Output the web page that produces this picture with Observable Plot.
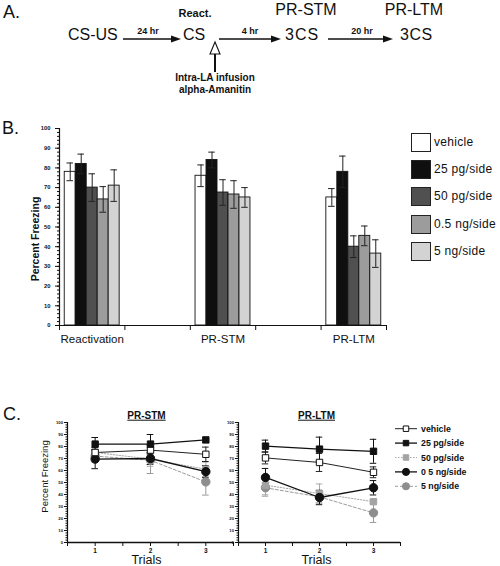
<!DOCTYPE html>
<html><head><meta charset="utf-8">
<script src="https://cdn.jsdelivr.net/npm/d3@7"></script>
<script src="https://cdn.jsdelivr.net/npm/@observablehq/plot@0.6"></script>
<style>
html,body{margin:0;padding:0;background:#fff;}
#root{position:relative;width:500px;height:566px;overflow:hidden;font-family:"Liberation Sans",Arial,sans-serif;color:#111;}
#root svg{position:absolute;overflow:visible;}
.lg{position:absolute;font-size:12px;line-height:18px;white-space:nowrap;letter-spacing:0.3px;}
.sw{position:absolute;width:18px;height:17px;border:1px solid #222;}
</style></head><body>
<div id="root">
<svg width="500" height="100" style="left:0;top:0" font-family="Liberation Sans, Arial, sans-serif" fill="#111">
  <text x="3" y="18" font-size="18">A.</text>
  <text x="195" y="16.5" font-size="11" font-weight="bold" text-anchor="middle">React.</text>
  <text x="306" y="15" font-size="16" text-anchor="middle">PR-STM</text>
  <text x="414" y="15" font-size="16" text-anchor="middle">PR-LTM</text>
  <text x="68" y="40" font-size="16">CS-US</text>
  <text x="183" y="40" font-size="16">CS</text>
  <text x="285" y="40" font-size="16" letter-spacing="1">3CS</text>
  <text x="400" y="40" font-size="16" letter-spacing="0.5">3CS</text>
  <text x="148" y="34" font-size="9" font-weight="bold" text-anchor="middle">24 hr</text>
  <text x="250" y="34" font-size="9" font-weight="bold" text-anchor="middle">4 hr</text>
  <text x="362" y="34" font-size="9" font-weight="bold" text-anchor="middle">20 hr</text>
  <line x1="123" y1="39" x2="172" y2="39" stroke="#111" stroke-width="1.6"/>
  <polygon points="181,39 171,35.5 171,42.5" fill="#111"/>
  <line x1="219" y1="39" x2="272" y2="39" stroke="#111" stroke-width="1.6"/>
  <polygon points="281,39 271,35.5 271,42.5" fill="#111"/>
  <line x1="328" y1="39" x2="384" y2="39" stroke="#111" stroke-width="1.6"/>
  <polygon points="393,39 383,35.5 383,42.5" fill="#111"/>
  <polygon points="215,42 210,54 220,54" fill="#fff" stroke="#111" stroke-width="1.1"/>
  <line x1="215" y1="54" x2="215" y2="72" stroke="#111" stroke-width="2"/>
  <text x="215" y="81" font-size="10" font-weight="bold" text-anchor="middle">Intra-LA infusion</text>
  <text x="215" y="93" font-size="10" font-weight="bold" text-anchor="middle">alpha-Amanitin</text>
  <text x="2" y="134" font-size="18">B.</text>
  <text x="3" y="420" font-size="18">C.</text>
</svg>
</div>
<script>
// ---------- data ----------
const doses = ["vehicle", "25 pg/side", "50 pg/side", "0.5 ng/side", "5 ng/side"];
const groups = ["Reactivation", "PR-STM", "PR-LTM"];
const reactMean = [78, 82, 70, 64, 71];
const reactSem  = [4.5, 5, 7, 6.5, 8];
const stmMean   = [76, 84, 67.5, 66.5, 65];
const stmSem    = [5.5, 4, 6.5, 7, 5];
const ltmMean   = [65, 78, 40, 45.5, 36.5];
const ltmSem    = [4.5, 8, 5.5, 5, 7];
const yTicks = [0, 10, 20, 30, 40, 50, 60, 70, 80, 90, 100];

const trials = [1, 2, 3];
const trialSeries = ["vehicle", "25 pg/side", "50 pg/side", "0 5 ng/side", "5 ng/side"];
const stmTrialMean = [[75, 77, 73.5], [82, 82, 85.5], [75, 69.5, 61], [69.5, 70, 59], [72, 68.5, 50.5]];
const stmTrialErr  = [[4, 4, 6], [5.5, 8, 2], [4, 6, 6], [8, 5, 5], [5, 11, 11]];
const ltmTrialMean = [[70.5, 66.7, 58.5], [80.3, 77.8, 76], [47.8, 40.8, 34], [54.2, 37.5, 45.6], [45.6, 38, 24.7]];
const ltmTrialErr  = [[5, 7.5, 4.5], [5, 10, 10], [8, 8, 2], [7.5, 6, 6], [7, 5, 8]];

// ---------- styles ----------
const FONT = "Liberation Sans, Arial, sans-serif";
const barFill = ["#ffffff", "#0f0f0f", "#505050", "#9c9c9c", "#d3d3d3"];
const seriesStyle = [
  {symbol: "square", fill: "#fff", stroke: "#111", line: "#222", dash: null, w: 1},
  {symbol: "square", fill: "#111", stroke: "#111", line: "#111", dash: null, w: 1.3},
  {symbol: "square", fill: "#a3a3a3", stroke: "#a3a3a3", line: "#aaa", dash: "1.5,1.5", w: 1},
  {symbol: "circle", fill: "#111", stroke: "#111", line: "#111", dash: null, w: 1.3},
  {symbol: "circle", fill: "#8e8e8e", stroke: "#8e8e8e", line: "#9a9a9a", dash: "3,2", w: 1}
];
const root = document.getElementById("root");

// ---------- panel B ----------
const barRows = [];
[[reactMean, reactSem], [stmMean, stmSem], [ltmMean, ltmSem]].forEach(([m, s], gi) =>
  doses.forEach((d, di) => barRows.push({group: groups[gi], gi, dose: d, di, mean: m[di], sem: s[di]})));
const BW = 0.168;
const left = r => 2 * r.gi + 0.08 + r.di * BW;
const mid = r => left(r) + BW / 2;
const capRows = barRows.flatMap(r => [{...r, v: r.mean + r.sem}, {...r, v: r.mean - r.sem}]);

const plotB = Plot.plot({
  width: 400, height: 240, marginTop: 13, marginBottom: 30, marginLeft: 59, marginRight: 14,
  style: {fontFamily: FONT, background: "transparent", color: "#111", overflow: "visible"},
  x: {domain: [0, 5]}, y: {domain: [0, 100]}, color: {type: "identity"},
  marks: [
    Plot.rect(barRows, {x1: left, x2: r => left(r) + BW, y1: 0, y2: "mean", fill: r => barFill[r.di], stroke: "#111", strokeWidth: 0.9}),
    Plot.ruleX(barRows, {x: mid, y1: r => r.mean - r.sem, y2: r => r.mean + r.sem, stroke: "#222", strokeWidth: 1}),
    Plot.ruleY(capRows, {y: "v", x1: r => mid(r) - 0.05, x2: r => mid(r) + 0.05, stroke: "#222", strokeWidth: 1}),
    Plot.ruleX([0], {stroke: "#111", strokeWidth: 1.2}),
    Plot.ruleY([0], {stroke: "#111", strokeWidth: 1.2}),
    Plot.axisY(yTicks, {tickSize: 4, tickPadding: 5, fontSize: 5.8, fontWeight: "bold", label: null}),
    Plot.axisY(d3.range(0, 101, 2), {tickSize: 2, tickFormat: () => "", label: null}),
    Plot.axisX([0, 1, 2, 3, 4, 5], {tickSize: 5, tickFormat: () => "", label: null}),
    Plot.text(groups, {x: (d, i) => 2 * i + 0.5, y: 0, dy: 14, fontSize: 11.5, text: d => d, fill: "#111", textAnchor: "middle"}),
    Plot.text(["Percent Freezing"], {frameAnchor: "left", rotate: -90, dx: -24, dy: 12, fontWeight: "bold", fontSize: 10.5, text: d => d, fill: "#111", textAnchor: "middle"})
  ]
});
plotB.style.left = "0px"; plotB.style.top = "115px";
root.appendChild(plotB);

// legend B
doses.forEach((d, i) => {
  const sw = document.createElement("div");
  sw.className = "sw";
  sw.style.left = "411px"; sw.style.top = (133 + i * 27.2) + "px"; sw.style.background = barFill[i];
  root.appendChild(sw);
  const t = document.createElement("div");
  t.className = "lg";
  t.style.left = "434px"; t.style.top = (133 + i * 27.2) + "px";
  t.textContent = d;
  root.appendChild(t);
});

// ---------- panel C ----------
function trialPlot(means, errs, title, opts) {
  const order = [4, 2, 3, 0, 1];
  const marks = [
    Plot.ruleX([0.5], {stroke: "#111", strokeWidth: 1.2}),
    Plot.ruleY([0], {stroke: "#111", strokeWidth: 1.4}),
    Plot.axisY(yTicks, {tickSize: 3, tickPadding: 1.5, fontSize: 4.2, fontWeight: "bold", label: null}),
    Plot.axisY(d3.range(0, 101, 2), {tickSize: 1.5, tickFormat: () => "", label: null}),
    Plot.axisX(trials, {tickSize: 4, tickPadding: 2, fontSize: 6.5, fontWeight: "bold", label: null}),
    Plot.axisX([0.5, 1.5, 2.5, 3.5], {tickSize: 4, tickFormat: () => "", label: null}),
    Plot.text([title], {frameAnchor: "top", dy: -7, dx: opts.titleDx, fontSize: 10, fontWeight: "bold", text: d => d, fill: "#111", lineAnchor: "middle"}),
    Plot.text(["Trials"], {frameAnchor: "bottom", dy: 17.5, dx: opts.titleDx, fontSize: 12.5, text: d => d, fill: "#111", lineAnchor: "middle"})
  ];
  if (opts.yLabel) marks.push(Plot.text(["Percent Freezing"], {frameAnchor: "left", rotate: -90, dx: -23, dy: -6, fontSize: 9.5, text: d => d, fill: "#111", textAnchor: "middle"}));
  for (const si of order) {
    const st = seriesStyle[si];
    const rows = trials.map((t, j) => ({t, v: means[si][j], e: errs[si][j]}));
    const caps = rows.flatMap(r => [{t: r.t, v: r.v + r.e}, {t: r.t, v: r.v - r.e}]);
    marks.push(Plot.line(rows, {x: "t", y: "v", stroke: st.line, strokeWidth: st.w, strokeDasharray: st.dash}));
    marks.push(Plot.ruleX(rows, {x: "t", y1: r => r.v - r.e, y2: r => r.v + r.e, stroke: st.line, strokeWidth: 1}));
    marks.push(Plot.ruleY(caps, {y: "v", x1: r => r.t - 0.06, x2: r => r.t + 0.06, stroke: st.line, strokeWidth: 1}));
  }
  for (const si of order) {
    const st = seriesStyle[si];
    const rows = trials.map((t, j) => ({t, v: means[si][j]}));
    marks.push(Plot.dot(rows, {x: "t", y: "v", symbol: st.symbol, r: st.symbol === "square" ? 3.6 : 4.2, fill: st.fill, stroke: st.stroke, strokeWidth: 1}));
  }
  const p = Plot.plot({
    width: opts.width, height: 166, marginTop: 22, marginBottom: 24, marginLeft: opts.ml, marginRight: opts.mr,
    style: {fontFamily: FONT, background: "transparent", color: "#111", overflow: "visible"},
    x: {domain: [0.5, 3.5]}, y: {domain: [0, 100]},
    marks
  });
  p.querySelectorAll("text").forEach(t => { if (t.textContent === title) t.setAttribute("text-decoration", "underline"); });
  p.style.left = opts.left + "px"; p.style.top = "400px";
  return p;
}
root.appendChild(trialPlot(stmTrialMean, stmTrialErr, "PR-STM", {width: 240, ml: 67, mr: 7, left: 0, titleDx: -4, yLabel: true}));
root.appendChild(trialPlot(ltmTrialMean, ltmTrialErr, "PR-LTM", {width: 205, ml: 38, mr: 5, left: 200, titleDx: -3, yLabel: false}));

// legend C
const lg = d3.create("svg").attr("width", 110).attr("height", 80)
  .style("left", "390px").style("top", "420px").attr("font-family", FONT);
trialSeries.forEach((name, i) => {
  const st = seriesStyle[i];
  const y = 8.7 + i * 14.4;
  lg.append("line").attr("x1", 5).attr("x2", 27).attr("y1", y).attr("y2", y)
    .attr("stroke", st.line).attr("stroke-width", st.w).attr("stroke-dasharray", st.dash);
  const sym = d3.symbol(st.symbol === "square" ? d3.symbolSquare : d3.symbolCircle, st.symbol === "square" ? 30 : 40)();
  lg.append("path").attr("d", sym).attr("transform", `translate(16,${y})`)
    .attr("fill", st.fill).attr("stroke", st.stroke);
  lg.append("text").attr("x", 31).attr("y", y).attr("dy", "0.35em").attr("font-size", 8.8)
    .attr("font-weight", "bold").attr("fill", "#111").text(name);
});
root.appendChild(lg.node());
</script>
</body></html>
